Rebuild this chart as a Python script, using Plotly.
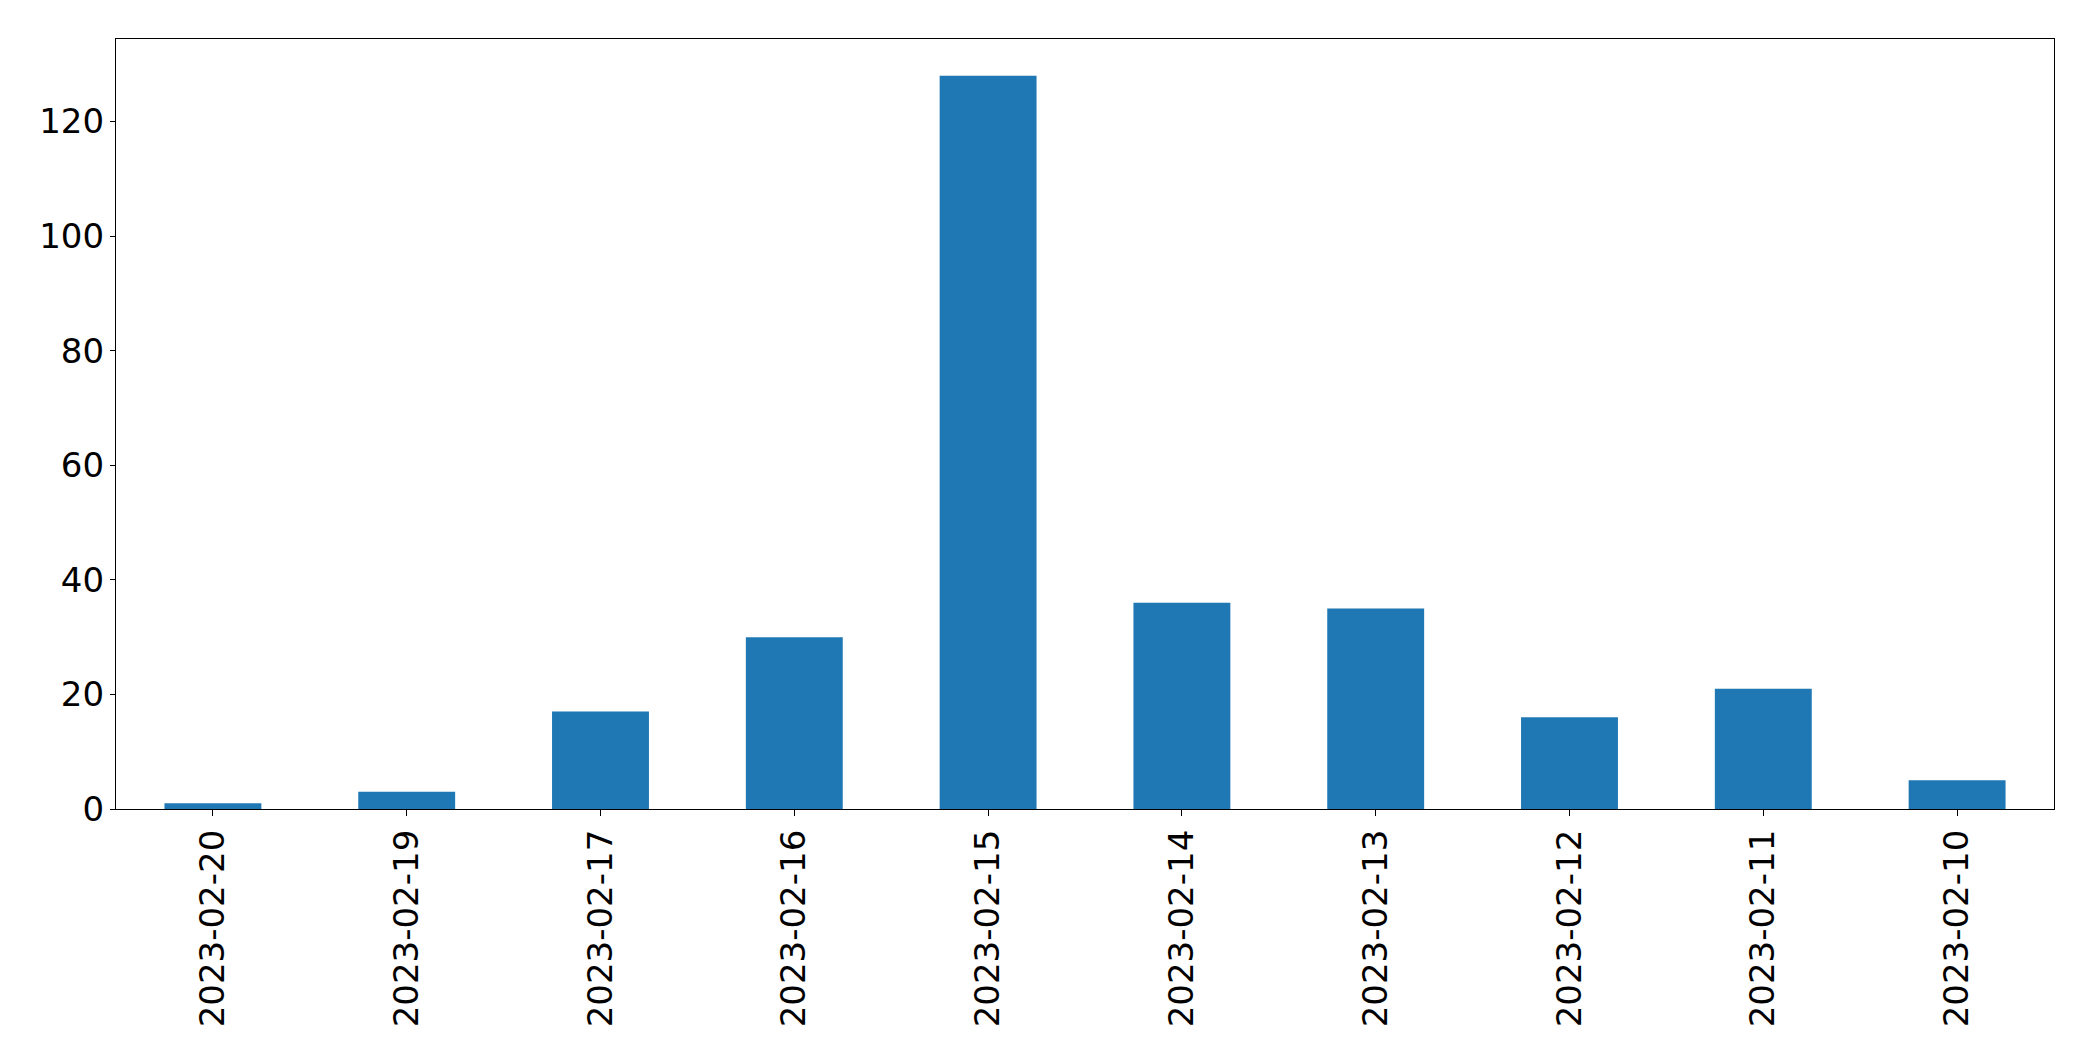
import plotly.graph_objects as go

dates = ["2023-02-20", "2023-02-19", "2023-02-17", "2023-02-16", "2023-02-15",
         "2023-02-14", "2023-02-13", "2023-02-12", "2023-02-11", "2023-02-10"]
counts = [1, 3, 17, 30, 128, 36, 35, 16, 21, 5]
y_ticks = [0, 20, 40, 60, 80, 100, 120]

fig = go.Figure(go.Bar(x=dates, y=counts, width=0.5, marker=dict(color="#1f77b4", line=dict(width=0))))

fig.update_layout(
    width=2085, height=1053,
    margin=dict(l=108, r=39, t=31, b=252),
    paper_bgcolor="white", plot_bgcolor="white",
    font=dict(family="DejaVu Sans", size=34, color="black"),
    showlegend=False,
)
fig.update_xaxes(
    type="category", range=[-0.5, len(dates) - 0.5],
    tickangle=-90, ticks="outside", ticklen=6, tickwidth=1.3, tickcolor="black",
    showline=True, linecolor="black", linewidth=1.3, mirror=True,
    showgrid=False, zeroline=False,
)
fig.update_yaxes(
    range=[0, max(counts) * 1.05], tickvals=y_ticks,
    ticks="outside", ticklen=5, tickwidth=1.3, tickcolor="black",
    ticklabelstandoff=-1,
    showline=True, linecolor="black", linewidth=1.3, mirror=True,
    showgrid=False, zeroline=False,
)
fig.write_html("out.html")
